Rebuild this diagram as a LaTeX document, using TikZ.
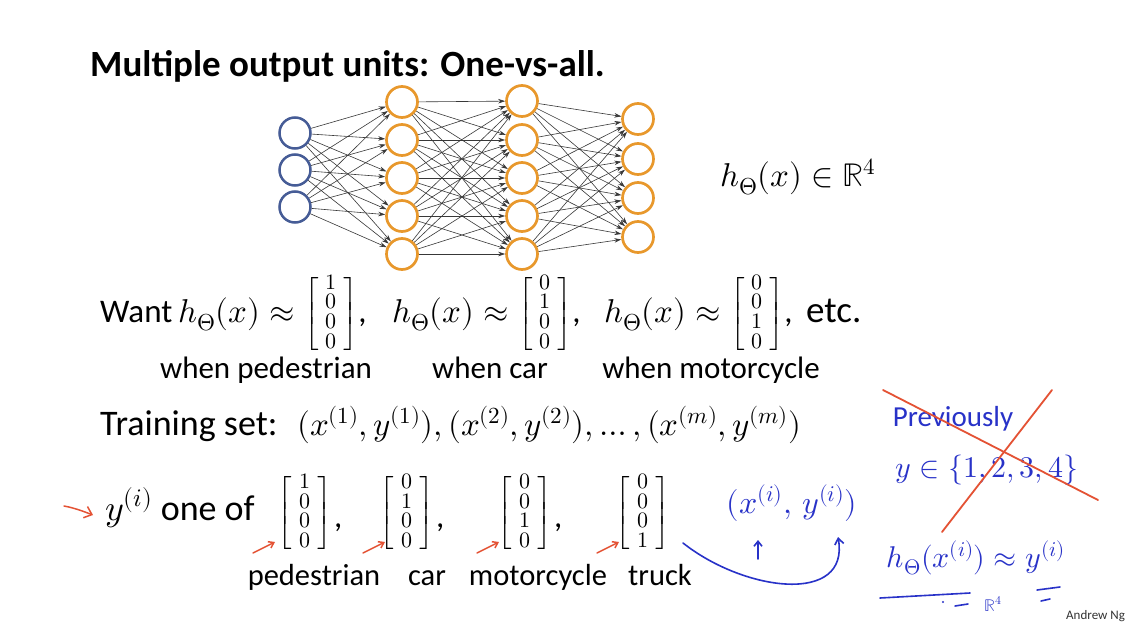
\documentclass[tikz,border=0pt]{standalone}
\usepackage{unicode-math}
\setmainfont{Carlito}
\setmathfont{Latin Modern Math}
\usetikzlibrary{arrows.meta}
\definecolor{nblue}{RGB}{70,92,150}
\definecolor{norange}{RGB}{232,152,44}
\definecolor{pen}{RGB}{40,50,200}
\definecolor{redpen}{RGB}{228,82,52}
\newcommand{\vecm}[4]{\vcenter{\hbox{\fontsize{22}{16.5}\selectfont$\left[\begin{array}{@{\hspace{7pt}}c@{\hspace{7pt}}}#1\\#2\\#3\\#4\end{array}\right]$}}}
\begin{document}
\begin{tikzpicture}[x=1pt,y=-1pt,
  inp/.style={circle,draw=nblue,line width=2.5pt,minimum size=31pt,inner sep=0},
  hid/.style={circle,draw=norange,line width=2.7pt,minimum size=31pt,inner sep=0},
  conn/.style={draw=black!78,line width=0.6pt,-{Stealth[length=7pt,width=4.5pt]}},
  txt/.style={inner sep=0,anchor=base west,font=\fontsize{36}{40}\selectfont},
  mth/.style={inner sep=0,anchor=base west,font=\fontsize{33}{40}\selectfont},
  lbl/.style={inner sep=0,anchor=base,font=\fontsize{31}{36}\selectfont},
  hand/.style={inner sep=0,text=pen,font=\fontsize{30}{34}\selectfont},
  penline/.style={draw=pen,line width=1.6pt,line cap=round},
  redline/.style={draw=redpen,line width=1.8pt,line cap=round},
  redarrow/.style={draw=redpen,line width=1.5pt,line cap=round,-{Straight Barb[length=5pt,width=7pt]}}]
\useasboundingbox (0,0) rectangle (1134,626);
\fill[white] (0,0) rectangle (1134,626);

% title
\node[txt,font=\fontsize{37}{40}\selectfont\bfseries] (title) at (90,77) {Multiple output units: One-vs-all.};

% network
\foreach \k/\y in {1/133,2/170,3/207} \node[inp] (i\k) at (295,\y) {};
\foreach \k/\y in {1/102,2/140,3/178,4/216,5/254} \node[hid] (a\k) at (402,\y) {};
\foreach \k/\y in {1/101,2/140,3/178,4/216,5/254} \node[hid] (b\k) at (522,\y) {};
\foreach \k/\y in {1/119,2/159,3/198,4/237} \node[hid] (o\k) at (638,\y) {};
\foreach \i in {1,2,3} \foreach \j in {1,...,5} \draw[conn] (i\i) -- (a\j);
\foreach \i in {1,...,5} \foreach \j in {1,...,5} \draw[conn] (a\i) -- (b\j);
\foreach \i in {1,...,5} \foreach \j in {1,...,4} \draw[conn] (b\i) -- (o\j);

\node[mth] (hx) at (720,186) {$h_\Theta(x)\in\mathbb{R}^4$};

% want row
\node[txt,font=\fontsize{33}{40}\selectfont] (want) at (100,322) {Want};
\node[mth] (w1) at (178,322) {$h_\Theta(x)\approx\vecm{1}{0}{0}{0}$,};
\node[mth] (w2) at (392,322) {$h_\Theta(x)\approx\vecm{0}{1}{0}{0}$,};
\node[mth] (w3) at (604,322) {$h_\Theta(x)\approx\vecm{0}{0}{1}{0}$,};
\node[txt,font=\fontsize{37}{40}\selectfont] (etc) at (806,322) {etc.};
\node[lbl] (l1) at (266,378) {when pedestrian};
\node[lbl] (l2) at (490,378) {when car};
\node[lbl] (l3) at (711,378) {when motorcycle};

% training set
\node[txt] (ts) at (100,435) {Training set:};
\node[mth] (tsm) at (297,435) {$(x^{(1)},y^{(1)}),(x^{(2)},y^{(2)}),\ldots,(x^{(m)},y^{(m)})$};

% y one of
\node[txt] (yone) at (105,520) {$y^{(i)}$ one of};
\node[mth,anchor=center] (m1) at (305,513) {$\vecm{1}{0}{0}{0}$};
\node[mth,anchor=center] (m2) at (407,513) {$\vecm{0}{1}{0}{0}$};
\node[mth,anchor=center] (m3) at (525,513) {$\vecm{0}{0}{1}{0}$};
\node[mth,anchor=center] (m4) at (643,513) {$\vecm{0}{0}{0}{1}$};
\node[mth] (c1) at (334,527) {,};
\node[mth] (c2) at (436,527) {,};
\node[mth] (c3) at (554,527) {,};
\node[lbl,font=\fontsize{30.5}{34}\selectfont] (p1) at (314,585) {pedestrian};
\node[lbl,font=\fontsize{30.5}{34}\selectfont] (p2) at (427,585) {car};
\node[lbl,font=\fontsize{30.5}{34}\selectfont] (p3) at (538,585) {motorcycle};
\node[lbl,font=\fontsize{30.5}{34}\selectfont] (p4) at (660,585) {truck};

% red marks
\coordinate (ra0) at (64,506); \coordinate (ra1) at (93,515);
\draw[redarrow,-{Straight Barb[length=7pt,width=12pt]}] (ra0) .. controls (75,508) and (85,512) .. (ra1);
\foreach \n/\x in {1/253,2/363,3/477,4/597} {
  \coordinate (rs\n) at (\x,553); \coordinate (re\n) at (\x+22,542);
  \draw[redarrow] (rs\n) -- (re\n);}

% handwriting
\node[hand,font=\fontsize{32}{36}\selectfont] (xy) at (792,503) {$(x^{(i)},\,y^{(i)})$};
\coordinate (up0) at (758,559); \coordinate (up1) at (758,540);
\draw[penline,-{Straight Barb[length=5pt,width=8pt]}] (up0) -- (up1);
\coordinate (cv0) at (683,543); \coordinate (cv1) at (838,537);
\draw[penline,-{Straight Barb[length=6pt,width=9pt]}] (cv0) .. controls (745,592) and (850,605) .. (cv1);

\node[hand,font=\fontsize{29}{34}\selectfont] (prev) at (953,419) {Previously};
\node[hand] (yset) at (987,470) {$y\in\{1,2,3,4\}$};
\node[hand] (hy) at (976,558) {$h_\Theta(x^{(i)})\approx y^{(i)}$};
\node[hand,font=\fontsize{17}{20}\selectfont] (r4) at (993,604) {$\mathbb{R}^4$};
\draw[penline] (880,598) -- (970,593);
\fill[pen] (943,602) circle (1.2pt);
\draw[penline] (955,606) -- (968,604);
\draw[penline] (1037,590) -- (1060,587);
\draw[penline] (1041,601) -- (1050,599);

\coordinate (x1a) at (883,390); \coordinate (x1b) at (1098,500);
\coordinate (x2a) at (1052,390); \coordinate (x2b) at (942,532);
\draw[redline] (x1a) -- (x1b);
\draw[redline] (x2a) -- (x2b);

\node[inner sep=0,anchor=base west,font=\fontsize{13}{15}\selectfont,text=black!80] (ng) at (1066,619) {Andrew Ng};
\end{tikzpicture}
\end{document}
